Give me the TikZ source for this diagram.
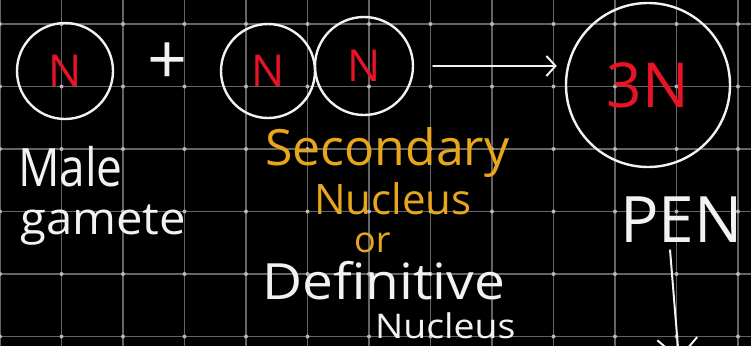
\documentclass[tikz,border=0pt]{standalone}
\usepackage{fontspec}
\setmainfont{Open Sans}
\usetikzlibrary{arrows.meta}

\definecolor{board}{RGB}{0,0,0}
\definecolor{gridline}{RGB}{100,100,100}
\definecolor{griddot}{RGB}{185,185,185}
\definecolor{chalk}{RGB}{242,242,242}
\definecolor{inkred}{RGB}{232,20,38}
\definecolor{inkyellow}{RGB}{231,166,28}

\begin{document}
\begin{tikzpicture}[x=1pt, y=-1pt,
    cell/.style={circle, draw=chalk, line width=2.4pt, inner sep=0pt, text=inkred,
                 font=\fontsize{44}{44}\selectfont},
    word/.style={anchor=base west, inner sep=0pt, text=chalk},
    hand/.style={draw=chalk, line width=2pt, line cap=round}]
    % ==================== board ====================
    \fill[board] (0,0) rectangle (751,346);
    \useasboundingbox (0,0) rectangle (751,346);
    \clip (0,0) rectangle (751,346);
    \foreach \gx in {0,61.5,123,184.5,246,307.5,369,430.5,492,553.5,615,676.5,738}
        \draw[gridline, line width=1.2pt] (\gx,0) -- (\gx,346);
    \foreach \gy in {24,86.5,149,211.5,274,336.5}
        \draw[gridline, line width=1.2pt] (0,\gy) -- (751,\gy);
    \foreach \gx in {0,61.5,123,184.5,246,307.5,369,430.5,492,553.5,615,676.5,738}
        \foreach \gy in {24,86.5,149,211.5,274,336.5}
            \fill[griddot] (\gx,\gy) circle (2pt);

    % --- a. male gamete ---
    \node[cell, minimum size=96pt] (male) at (65,71) {N};
    \node[word, font=\fontsize{46}{46}\selectfont, yscale=1.15] (maletxt) at (18,186) {Male};
    \node[word, font=\fontsize{45}{45}\selectfont, xscale=1.05] (gamete) at (20,234) {gamete};

    % plus sign
    \node[text=chalk, inner sep=0pt, font=\fontsize{70}{70}\selectfont] (plus) at (168,64) {+};

    % --- b. secondary nucleus (two polar nuclei) ---
    \node[cell, minimum size=94pt] (polara) at (268,71) {N};
    \node[cell, minimum size=98pt] (polarb) at (364,66) {N};
    \node[word, text=inkyellow, font=\fontsize{50}{50}\selectfont] (sec) at (265,165) {Secondary};
    \node[word, text=inkyellow, font=\fontsize{42}{42}\selectfont] (secnuc) at (314,214) {Nucleus};
    \node[word, text=inkyellow, font=\fontsize{36}{36}\selectfont] (or) at (354,252) {or};
    \node[word, font=\fontsize{50}{50}\selectfont, xscale=1.1] (def) at (262,299) {Definitive};
    \node[word, font=\fontsize{34}{34}\selectfont, xscale=1.1] (defnuc) at (375,338) {Nucleus};

    % --- c. primary endosperm nucleus ---
    \node[cell, minimum size=164pt, font=\fontsize{62}{62}\selectfont] (pen) at (648,85) {3N};
    \node[word, font=\fontsize{64}{64}\selectfont] (pentxt) at (620,242) {PEN};

    % fusion arrow (towards the right)
    \draw[hand, -{Straight Barb[length=9pt, width=20pt]}, shorten <=19pt, shorten >=8pt]
        (polarb.east) -- (polarb.east -| pen.west);

    % downward arrow below PEN
    \coordinate (pentip) at (679,360);
    \draw[hand, -{Straight Barb[length=20pt, width=40pt]}, shorten <=8pt]
        ([xshift=-12pt]pentxt.south) -- (pentip);
\end{tikzpicture}
\end{document}
